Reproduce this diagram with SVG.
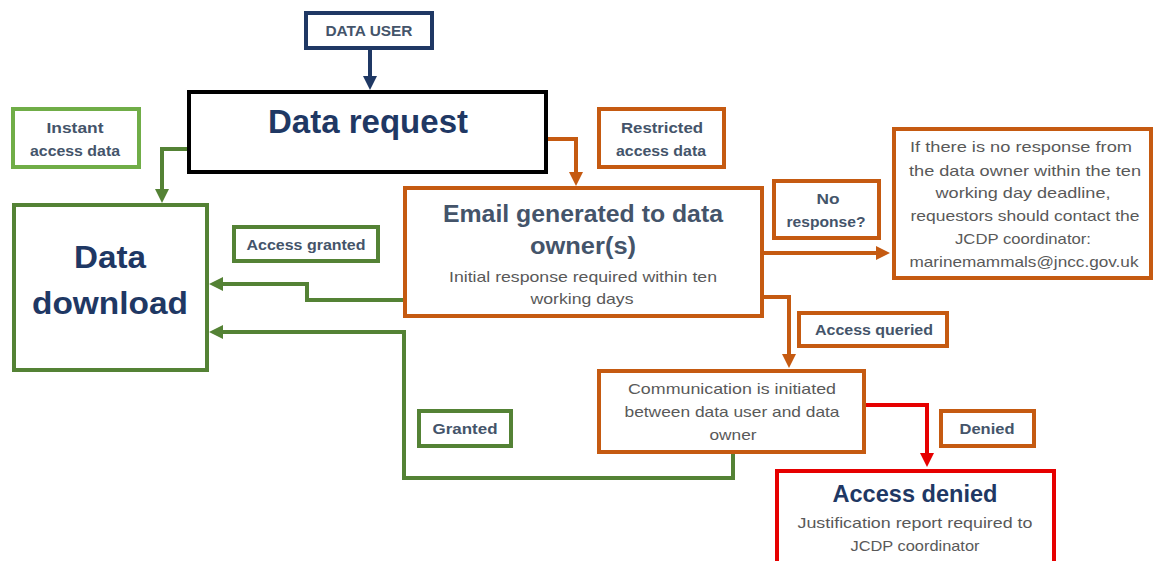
<svg xmlns="http://www.w3.org/2000/svg" width="1154" height="561" viewBox="0 0 1154 561">
<style>
text{font-family:"Liberation Sans","Open Sans",sans-serif;text-anchor:middle}
.lbl{font-weight:bold;font-size:15px;fill:#44546A}
.big{font-weight:bold;fill:#1F3864}
.sub{font-size:15px;fill:#595959}
.box{fill:#fff;stroke-width:4}
.or{stroke:#C55A11}
.gr{stroke:#548235}
.lg{stroke:#70AD47}
.con{fill:none;stroke-width:4}
</style>
<defs>
<marker id="aN" viewBox="0 0 14 14" refX="1" refY="7" markerWidth="14" markerHeight="14" markerUnits="userSpaceOnUse" orient="auto"><path d="M0,0 L14,7 L0,14 z" fill="#1F3864"/></marker>
<marker id="aG" viewBox="0 0 14 14" refX="1" refY="7" markerWidth="14" markerHeight="14" markerUnits="userSpaceOnUse" orient="auto"><path d="M0,0 L14,7 L0,14 z" fill="#548235"/></marker>
<marker id="aO" viewBox="0 0 14 14" refX="1" refY="7" markerWidth="14" markerHeight="14" markerUnits="userSpaceOnUse" orient="auto"><path d="M0,0 L14,7 L0,14 z" fill="#C55A11"/></marker>
<marker id="aR" viewBox="0 0 14 14" refX="1" refY="7" markerWidth="14" markerHeight="14" markerUnits="userSpaceOnUse" orient="auto"><path d="M0,0 L14,7 L0,14 z" fill="#E60000"/></marker>
</defs>
<rect width="1154" height="561" fill="#fff"/>
<g id="connectors">
<path class="con" stroke="#1F3864" d="M370,48 V77" marker-end="url(#aN)"/>
<path class="con gr" d="M188,149 H162 V190" marker-end="url(#aG)"/>
<path class="con or" d="M547,139 H576 V173" marker-end="url(#aO)"/>
<path class="con or" d="M763,253 H877" marker-end="url(#aO)"/>
<path class="con or" d="M763,297 H789 V355" marker-end="url(#aO)"/>
<path class="con gr" d="M404,300 H307 V284 H222" marker-end="url(#aG)"/>
<path class="con gr" d="M733,452 V478 H404 V332 H222" marker-end="url(#aG)"/>
<path class="con" stroke="#E60000" d="M864,405 H927 V454" marker-end="url(#aR)"/>
</g>
<g id="data-user">
<rect class="box" stroke="#1F3864" x="306" y="13" width="126" height="35"/>
<text class="lbl" x="369" y="36" font-size="14" textLength="87" lengthAdjust="spacingAndGlyphs">DATA USER</text>
</g>
<g id="data-request">
<rect class="box" stroke="#000" x="189" y="92" width="357" height="80"/>
<text class="big" x="368" y="133" font-size="34" textLength="200" lengthAdjust="spacingAndGlyphs">Data request</text>
</g>
<g id="instant-access">
<rect class="box lg" x="13" y="109" width="126" height="58"/>
<text class="lbl" x="75" y="133" textLength="57" lengthAdjust="spacingAndGlyphs">Instant</text>
<text class="lbl" x="75" y="156" textLength="90" lengthAdjust="spacingAndGlyphs">access data</text>
</g>
<g id="restricted-access">
<rect class="box or" x="599" y="109" width="125" height="58"/>
<text class="lbl" x="662" y="133" textLength="82" lengthAdjust="spacingAndGlyphs">Restricted</text>
<text class="lbl" x="661" y="156" textLength="90" lengthAdjust="spacingAndGlyphs">access data</text>
</g>
<g id="data-download">
<rect class="box gr" x="14" y="205" width="193" height="165"/>
<text class="big" x="110" y="268" font-size="32" textLength="72" lengthAdjust="spacingAndGlyphs">Data</text>
<text class="big" x="110" y="314" font-size="32" textLength="156" lengthAdjust="spacingAndGlyphs">download</text>
</g>
<g id="email-generated">
<rect class="box or" x="405" y="188" width="357" height="128"/>
<text x="583" y="222" font-size="23" font-weight="bold" fill="#44546A" textLength="280" lengthAdjust="spacingAndGlyphs">Email generated to data</text>
<text x="583" y="254" font-size="23" font-weight="bold" fill="#44546A" textLength="106" lengthAdjust="spacingAndGlyphs">owner(s)</text>
<text class="sub" x="583" y="282" textLength="268" lengthAdjust="spacingAndGlyphs">Initial response required within ten</text>
<text class="sub" x="582" y="304" textLength="103" lengthAdjust="spacingAndGlyphs">working days</text>
</g>
<g id="no-response">
<rect class="box or" x="774" y="181" width="105" height="57"/>
<text class="lbl" x="828" y="204" textLength="23" lengthAdjust="spacingAndGlyphs">No</text>
<text class="lbl" x="826" y="227" textLength="79" lengthAdjust="spacingAndGlyphs">response?</text>
</g>
<g id="no-response-info">
<rect class="box or" x="894" y="129" width="257" height="149"/>
<text class="sub" x="1021" y="152" font-size="16" textLength="222" lengthAdjust="spacingAndGlyphs">If there is no response from</text>
<text class="sub" x="1025" y="176" font-size="16" textLength="232" lengthAdjust="spacingAndGlyphs">the data owner within the ten</text>
<text class="sub" x="1023" y="198" font-size="16" textLength="175" lengthAdjust="spacingAndGlyphs">working day deadline,</text>
<text class="sub" x="1025" y="221" font-size="16" textLength="229" lengthAdjust="spacingAndGlyphs">requestors should contact the</text>
<text class="sub" x="1023" y="244" font-size="16" textLength="136" lengthAdjust="spacingAndGlyphs">JCDP coordinator:</text>
<text class="sub" x="1024" y="267" font-size="16" textLength="229" lengthAdjust="spacingAndGlyphs">marinemammals@jncc.gov.uk</text>
</g>
<g id="access-granted">
<rect class="box gr" x="234" y="227" width="144" height="34"/>
<text class="lbl" x="306" y="250" textLength="119" lengthAdjust="spacingAndGlyphs">Access granted</text>
</g>
<g id="access-queried">
<rect class="box or" x="799" y="313" width="148" height="33"/>
<text class="lbl" x="874" y="335" textLength="118" lengthAdjust="spacingAndGlyphs">Access queried</text>
</g>
<g id="communication">
<rect class="box or" x="599" y="371" width="265" height="81"/>
<text class="sub" x="732" y="394" textLength="208" lengthAdjust="spacingAndGlyphs">Communication  is initiated</text>
<text class="sub" x="732" y="417" textLength="215" lengthAdjust="spacingAndGlyphs">between data user and data</text>
<text class="sub" x="733" y="440" textLength="47" lengthAdjust="spacingAndGlyphs">owner</text>
</g>
<g id="granted">
<rect class="box gr" x="419" y="411" width="92" height="35"/>
<text class="lbl" x="465" y="434" textLength="65" lengthAdjust="spacingAndGlyphs">Granted</text>
</g>
<g id="denied">
<rect class="box or" x="941" y="411" width="93" height="35"/>
<text class="lbl" x="987" y="434" textLength="55" lengthAdjust="spacingAndGlyphs">Denied</text>
</g>
<g id="access-denied">
<rect class="box" stroke="#E60000" x="777" y="471" width="277" height="110"/>
<text class="big" x="915" y="502" font-size="24" textLength="165" lengthAdjust="spacingAndGlyphs">Access denied</text>
<text class="sub" x="915" y="528" textLength="235" lengthAdjust="spacingAndGlyphs">Justification report required to</text>
<text class="sub" x="915" y="551" textLength="129" lengthAdjust="spacingAndGlyphs">JCDP coordinator</text>
</g>
</svg>
